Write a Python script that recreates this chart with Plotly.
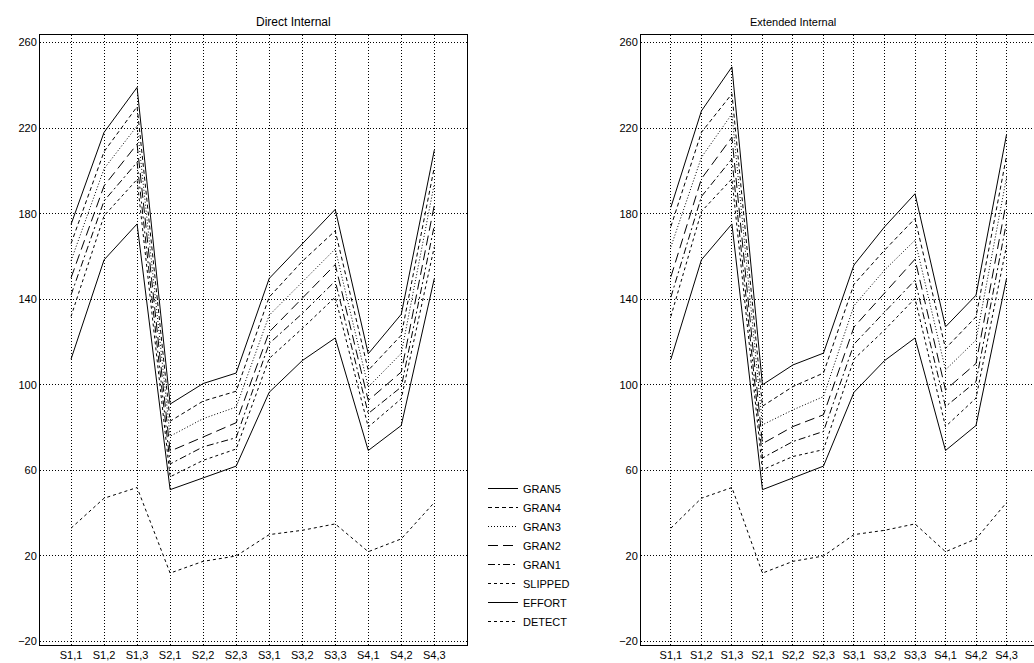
import plotly.graph_objects as go

categories = ["S1,1", "S1,2", "S1,3", "S2,1", "S2,2", "S2,3",
              "S3,1", "S3,2", "S3,3", "S4,1", "S4,2", "S4,3"]

# Direct Internal panel
gran5_d = [175, 218, 239, 91, 100.6, 105.5, 149.7, 165.8, 182, 114.5, 133, 209.7]
gran4_d = [166, 209, 230, 83, 92.4, 97, 141, 157.7, 172, 106.8, 123.2, 201.7]
gran3_d = [158, 201, 221, 76, 84.2, 89.6, 132.5, 148, 163.5, 99, 114.7, 194]
gran2_d = [150, 193, 212.5, 69, 75.6, 82.3, 124.7, 140.3, 156.2, 92.7, 106, 184]
gran1_d = [142, 186, 204, 63, 71, 75.3, 119.3, 133.3, 148.5, 86.6, 99, 174.5]
slipped_d = [132, 179, 196, 57, 64.7, 70, 112.3, 126.3, 141, 80.3, 93.5, 164.5]

# Extended Internal panel
gran5_e = [183, 228, 248.6, 100, 109.3, 114.8, 156, 173.8, 189.3, 127.1, 141.9, 217]
gran4_e = [174, 218, 236, 90, 99.2, 105.5, 147, 162.9, 177.7, 117, 131.8, 207]
gran3_e = [164.5, 206.3, 226.6, 81.3, 88.3, 94.5, 137, 153.6, 167.6, 107, 120.9, 197]
gran2_e = [150.5, 196.3, 215.7, 72.5, 80.5, 86, 127, 142.7, 158.7, 97.6, 110, 186]
gran1_e = [141, 188, 205.6, 65.8, 73.5, 78.2, 119, 134, 148.9, 89.8, 101.5, 176]
slipped_e = [132, 181, 196.3, 60.3, 66.5, 69.7, 112, 125.6, 140.4, 80.5, 93.8, 165]

# shared series
effort = [112, 158.4, 175.2, 51, 56.5, 62, 96.5, 111.3, 121.9, 69.3, 81, 149.7]
detect = [33, 47, 52, 12, 17.5, 20, 30, 32, 35, 22, 28, 45]

series_names = ["GRAN5", "GRAN4", "GRAN3", "GRAN2", "GRAN1", "SLIPPED", "EFFORT", "DETECT"]
dashes = ["solid", "4px,3px", "1px,2px", "10px,5px", "7px,3px,2px,3px", "3px,3px", "solid", "3px,3px"]

direct = [gran5_d, gran4_d, gran3_d, gran2_d, gran1_d, slipped_d, effort, detect]
extended = [gran5_e, gran4_e, gran3_e, gran2_e, gran1_e, slipped_e, effort, detect]

fig = go.Figure()
for name, dash, ys in zip(series_names, dashes, direct):
    fig.add_trace(go.Scatter(x=categories, y=ys, mode="lines", name=name,
                             line=dict(color="black", width=1, dash=dash),
                             xaxis="x", yaxis="y", showlegend=True))
for name, dash, ys in zip(series_names, dashes, extended):
    fig.add_trace(go.Scatter(x=categories, y=ys, mode="lines", name=name,
                             line=dict(color="black", width=1, dash=dash),
                             xaxis="x2", yaxis="y2", showlegend=False))

W, H = 1034, 663
ML, MR, MT, MB = 40, 0, 35, 18
PW = W - ML - MR
PH = H - MT - MB
font = "Liberation Sans, Arial, sans-serif"
ytickvals = [-20, 20, 60, 100, 140, 180, 220, 260]

axis_common = dict(showline=True, linecolor="black", linewidth=1,
                   showgrid=True, gridcolor="black", gridwidth=1, griddash="1px,2px",
                   zeroline=False, ticks="", automargin=False,
                   tickfont=dict(family=font, size=11, color="black"))

left_dom = [0, (467 - ML) / PW]
right_dom = [(641 - ML) / PW, 1.0]

fig.update_layout(
    width=W, height=H,
    margin=dict(l=ML, r=MR, t=MT, b=MB, autoexpand=False),
    plot_bgcolor="white", paper_bgcolor="white",
    font=dict(family=font, color="black"),
    xaxis=dict(domain=left_dom, type="category", range=[-0.94, 11.99],
               anchor="y", tickangle=0, mirror=True, **axis_common),
    yaxis=dict(domain=[0, 1], range=[-21.6, 263.5], tickvals=ytickvals,
               anchor="x", mirror=True, **axis_common),
    xaxis2=dict(domain=right_dom, type="category", range=[-0.98, 11.9],
                anchor="y2", tickangle=0, mirror=True, **axis_common),
    yaxis2=dict(domain=[0, 1], range=[-21.6, 263.5], tickvals=ytickvals,
                anchor="x2", mirror=False, **axis_common),
    legend=dict(x=(483 - ML) / PW, y=1 - (474 - MT) / PH,
                xanchor="left", yanchor="top", bgcolor="rgba(0,0,0,0)",
                font=dict(family=font, size=11, color="black"),
                tracegroupgap=0, itemwidth=30),
    annotations=[
        dict(text="Direct Internal", xref="paper", yref="paper",
             x=sum(left_dom) / 2, y=1, yanchor="middle", yshift=13, showarrow=False,
             font=dict(family=font, size=12, color="black")),
        dict(text="Extended Internal", xref="paper", yref="paper",
             x=((641 + 1034) / 2 - ML) / PW,
             y=1, yanchor="middle", yshift=13, showarrow=False,
             font=dict(family=font, size=11, color="black")),
    ],
)

fig.write_html("out.html", config={"displayModeBar": False},
               post_script="document.body.style.margin='0';document.body.style.overflow='hidden';")
